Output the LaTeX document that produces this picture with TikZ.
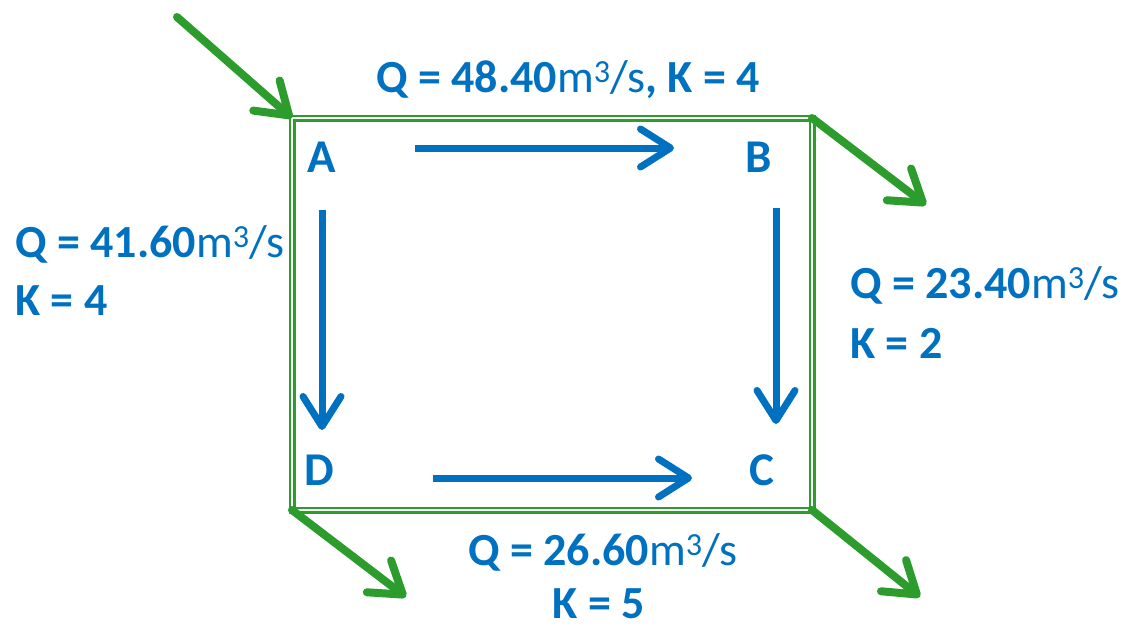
\documentclass[tikz,border=0pt]{standalone}
\usepackage{fontspec}
\setmainfont{Carlito}
\usetikzlibrary{arrows.meta}
\definecolor{flowblue}{RGB}{0,112,192}
\definecolor{flowgreen}{RGB}{44,157,44}
\newcommand{\cubic}{m\textsuperscript{3}/s}
\begin{document}
\begin{tikzpicture}[x=1pt,y=-1pt,
  greenarrow/.style={draw=flowgreen,line width=8pt,line cap=round,
    -{Straight Barb[length=30pt,width=40pt,line cap=round,line join=round]}},
  bluearrow/.style={draw=flowblue,line width=7pt,
    -{Straight Barb[length=30pt,width=38pt,line cap=round,line join=round]}},
  lbl/.style={text=flowblue,font=\fontsize{47}{52}\selectfont\bfseries,inner sep=0pt,anchor=base},
  qlbl/.style={text=flowblue,font=\fontsize{46}{50}\selectfont,inner sep=0pt,anchor=base west},
  pipe/.style={draw=flowgreen,line width=2.3pt,double=white,double distance=2.4pt}]
\useasboundingbox (0,0) rectangle (1138,629);
% box corners
\coordinate (cA) at (292,118);
\coordinate (cB) at (812,118);
\coordinate (cC) at (812,510);
\coordinate (cD) at (292,510);
\draw[pipe] (cA) -- (cB) -- (cC) -- (cD) -- cycle;
% external green arrows
\coordinate (inS) at (177,17);
\coordinate (outB) at (926,205);
\coordinate (outD) at (406,597);
\coordinate (outC) at (920,597);
\draw[greenarrow] (inS) -- (cA);
\draw[greenarrow] (cB) -- (outB);
\draw[greenarrow] (cD) -- (outD);
\draw[greenarrow] (cC) -- (outC);
% node letters
\node[lbl] (A) at (322,172) {A};
\node[lbl] (B) at (759,172) {B};
\node[lbl] (D) at (319,485) {D};
\node[lbl] (C) at (762,485) {C};
% internal flow arrows
\coordinate (ab1) at (415,148);
\coordinate (ab2) at (674,148);
\coordinate (bc1) at (776,208);
\coordinate (bc2) at (776,424);
\coordinate (ad1) at (322,210);
\coordinate (ad2) at (322,430);
\coordinate (dc1) at (433,478);
\coordinate (dc2) at (692,478);
\draw[bluearrow] (ab1) -- (ab2);
\draw[bluearrow] (bc1) -- (bc2);
\draw[bluearrow] (ad1) -- (ad2);
\draw[bluearrow] (dc1) -- (dc2);
% flow labels
\node[qlbl] (qab) at (376,92) {\textbf{Q = 48.40}\cubic\textbf{, K = 4}};
\node[qlbl] (qad) at (15,257) {\textbf{Q = 41.60}\cubic};
\node[qlbl] (kad) at (15,315) {\textbf{K = 4}};
\node[qlbl] (qbc) at (850,298) {\textbf{Q = 23.40}\cubic};
\node[qlbl] (kbc) at (850,358) {\textbf{K = 2}};
\node[qlbl] (qdc) at (468,565) {\textbf{Q = 26.60}\cubic};
\node[lbl,font=\fontsize{46}{50}\selectfont\bfseries] (kdc) at (599,618) {K = 5};
\end{tikzpicture}
\end{document}
